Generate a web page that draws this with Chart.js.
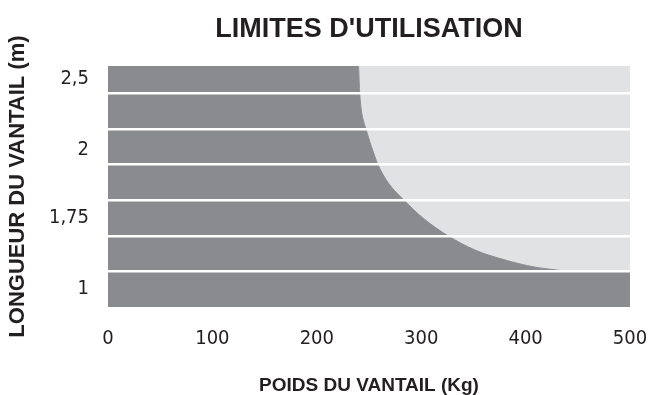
<!DOCTYPE html>
<html>
<head>
<meta charset="utf-8">
<script src="https://cdn.jsdelivr.net/npm/chart.js@4"></script>
<style>
  html, body { margin: 0; padding: 0; background: #fff; }
  #wrap { width: 648px; height: 395px; }
</style>
</head>
<body>
<div id="wrap"><canvas id="limites"></canvas></div>
<script>
// limit curve: weight (kg) vs leaf length, in band units (band 0 = "1", band 6 = "2,5")
const poidsLimite = [0, 239.8, 241.1, 242.8, 247.1, 252.4, 258.6, 268.6, 283.5, 301.7, 325.7, 351.6, 380.3, 409.0, 429.8, 442.5, 500];
const longueurLimite = [6.77, 6.77, 6.0, 5.5, 5.0, 4.5, 4.0, 3.48, 3.0, 2.5, 2.0, 1.6, 1.32, 1.12, 1.04, 1.0, 1.0];

const yTickPos = [0.5, 2.5, 4.42, 6.4];
const yTickLabels = ["1", "1,75", "2", "2,5"];
const bandLines = [1, 2, 3, 4, 5, 6];
const yMax = 6.77;

const TEXT = "#231f20";
const DARK = "#8a8b8e";
const LIGHT = "#e1e2e4";
const NARROW = '"Liberation Sans Narrow", "Arial Narrow", "DejaVu Sans Condensed", sans-serif';
const BOLD = '"Liberation Sans", Arial, sans-serif';

const curve = poidsLimite.map((x, i) => ({ x, y: longueurLimite[i] }));

new Chart(document.getElementById("limites"), {
  type: "line",
  data: {
    datasets: [
      {
        label: "admissible",
        data: curve,
        fill: "start",
        backgroundColor: DARK,
        borderColor: DARK,
        borderWidth: 1,
        pointRadius: 0,
        cubicInterpolationMode: "monotone",
      },
      {
        label: "hors limites",
        data: curve,
        fill: "end",
        backgroundColor: LIGHT,
        borderWidth: 0,
        pointRadius: 0,
        cubicInterpolationMode: "monotone",
      },
    ],
  },
  options: {
    responsive: true,
    maintainAspectRatio: false,
    animation: false,
    layout: { padding: 0 },
    plugins: {
      legend: { display: false },
      tooltip: { enabled: false },
      title: {
        display: true,
        fullSize: false,
        text: "LIMITES D'UTILISATION",
        color: TEXT,
        font: { family: BOLD, size: 27, weight: "bold", lineHeight: 1.2 },
        padding: { top: 13, bottom: 20.6 },
      },
    },
    scales: {
      x: {
        type: "linear",
        min: 0,
        max: 500,
        grid: { display: false },
        border: { display: false },
        ticks: {
          stepSize: 100,
          color: TEXT,
          padding: 12,
          font: { family: NARROW, size: 20 },
        },
        title: {
          display: true,
          text: "POIDS DU VANTAIL (Kg)",
          color: TEXT,
          font: { family: BOLD, size: 19, weight: "bold", lineHeight: 1 },
          padding: { top: 0, bottom: 0 },
        },
        afterFit: s => {
          s.height = 88;
          s.paddingLeft = 0;
          s.paddingRight = 18;
        },
      },
      y: {
        type: "linear",
        position: "left",
        min: 0,
        max: yMax,
        grid: { display: false },
        border: { display: false },
        afterBuildTicks: s => { s.ticks = yTickPos.map(v => ({ value: v })); },
        ticks: {
          color: TEXT,
          padding: 11,
          font: { family: NARROW, size: 20 },
          callback: (v, i) => yTickLabels[i],
        },
        title: {
          display: true,
          text: "LONGUEUR DU VANTAIL (m)",
          color: TEXT,
          font: { family: BOLD, size: 22, weight: "bold", lineHeight: 1.2 },
          padding: { top: 5, bottom: 0 },
        },
        afterFit: s => { s.width = 108; },
      },
      // white band separators, drawn over the filled areas
      bands: {
        type: "linear",
        position: "left",
        min: 0,
        max: yMax,
        border: { display: false },
        grid: { color: "#ffffff", lineWidth: 2.5, drawTicks: false, z: 1 },
        ticks: { display: false },
        afterBuildTicks: s => { s.ticks = bandLines.map(v => ({ value: v })); },
        afterFit: s => { s.width = 0; },
      },
    },
  },
});
</script>
</body>
</html>
